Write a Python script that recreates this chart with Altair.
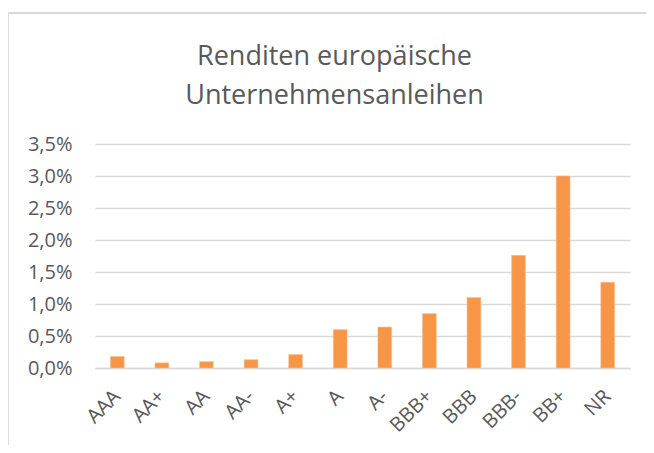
import altair as alt
import pandas as pd

categories = ["AAA", "AA+", "AA", "AA-", "A+", "A", "A-", "BBB+", "BBB", "BBB-", "BB+", "NR"]
yields = [0.0018, 0.0008, 0.0010, 0.0013, 0.0021, 0.0060, 0.0064, 0.0085, 0.0110, 0.0176, 0.0300, 0.0134]
y_ticks = [0.0, 0.005, 0.01, 0.015, 0.02, 0.025, 0.03, 0.035]
title_lines = ["Renditen europäische", "Unternehmensanleihen"]

df = pd.DataFrame({"Rating": categories, "Rendite": yields})

FONT = "Open Sans"
TXT = "#595959"
GRID = "#D9D9D9"

bars = alt.Chart(df).mark_bar(color="#F79646", stroke="#FAC090", strokeWidth=0.6).encode(
    x=alt.X("Rating:N", sort=categories,
            scale=alt.Scale(paddingInner=0.69, paddingOuter=0.345),
            axis=alt.Axis(title=None, labelAngle=-45, labelAlign="right", labelBaseline="middle",
                          labelPadding=25, ticks=False, domain=True, domainColor=GRID, domainWidth=1.5,
                          labelColor=TXT, labelFont=FONT, labelFontSize=20)),
    y=alt.Y("Rendite:Q", scale=alt.Scale(domain=[0, 0.035], nice=False),
            axis=alt.Axis(title=None, values=y_ticks, domain=False, ticks=False,
                          labelExpr="replace(format(datum.value, '.1%'), '.', ',')",
                          labelPadding=23, gridColor=GRID, gridWidth=1.5,
                          labelColor=TXT, labelFont=FONT, labelFontSize=20)),
)

frame_left = alt.Chart(df).mark_rule(color=GRID, strokeWidth=1.5).encode(
    x=alt.value(-87.5), y=alt.value(-131), y2=alt.value(320))
frame_top = alt.Chart(df).mark_rule(color=GRID, strokeWidth=1.5).encode(
    x=alt.value(-87.5), x2=alt.value(560), y=alt.value(-131))

chart = alt.layer(frame_left, frame_top, bars).properties(
    width=535, height=224,
    autosize=alt.AutoSizeParams(type="none"),
    padding={"left": 87, "top": 136, "right": 16, "bottom": 77},
    title=alt.TitleParams(title_lines, font=FONT, fontSize=27, fontWeight="normal", color=TXT,
                          anchor="middle", frame="group", dx=-28, offset=-98, lineHeight=39),
).configure_view(stroke=None)

chart.save("out.html", embed_options={"renderer": "svg", "actions": False})
